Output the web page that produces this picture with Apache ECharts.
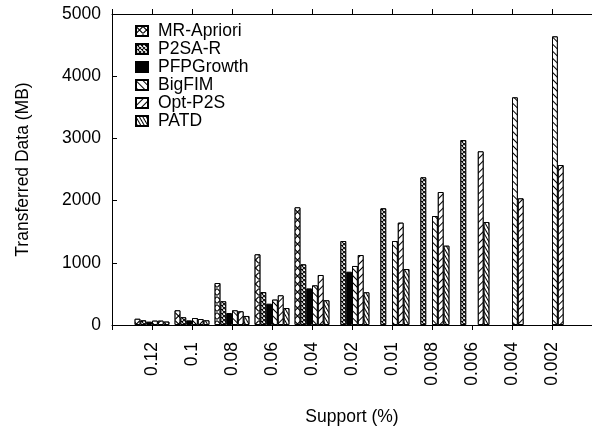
<!DOCTYPE html>
<html>
<head>
<meta charset="utf-8">
<script src="https://cdn.jsdelivr.net/npm/echarts@6/dist/echarts.min.js"></script>
<style>
  html, body { margin: 0; padding: 0; background: #fff; }
  #chart { width: 592px; height: 432px; }
</style>
</head>
<body>
<div id="chart"></div>
<script>
  const supports = ['0.12', '0.1', '0.08', '0.06', '0.04', '0.02', '0.01', '0.008', '0.006', '0.004', '0.002'];
  const mrApriori = [100, 236, 675, 1136, 1892, null, null, null, null, null, null];
  const p2saR = [75, 124, 381, 530, 975, 1350, 1876, 2374, 2974, null, null];
  const pfpGrowth = [55, 75, 193, 343, 589, 857, null, null, null, null, null];
  const bigFim = [70, 112, 236, 408, 637, 949, 1350, 1752, null, 3660, 4640];
  const optP2s = [70, 96, 220, 477, 804, 1125, 1645, 2138, 2792, 2036, 2572];
  const patd = [55, 75, 145, 273, 397, 526, 900, 1275, 1656, null, null];
  const yTicks = [0, 1000, 2000, 3000, 4000, 5000];

  const font = 'Liberation Sans, Arial, Helvetica, sans-serif';
  const fontSize = 17.5;

  // empty slot at both ends so the ticks fall like the gnuplot original
  const cats = [''].concat(supports, ['']);
  const pad = arr => [null].concat(arr, [null]);

  // X shaped cell, tiled into a diamond lattice
  const crossPath = t => 'path://M0,0L' + t + ',0L10,' + (10 - t) + 'L10,10L' + (10 - t) + ',10L0,' + t + 'Z' +
    'M' + (10 - t) + ',0L10,0L10,' + t + 'L' + t + ',10L0,10L0,' + (10 - t) + 'Z';

  const decals = {
    mr: { symbol: crossPath(1.2), symbolSize: 1, dashArrayX: [7, 0], dashArrayY: [8, 0], color: '#000', backgroundColor: '#fff' },
    p2sa: { symbol: crossPath(1.6), symbolSize: 1, dashArrayX: [4, 0], dashArrayY: [4, 0], color: '#000', backgroundColor: '#fff' },
    big: { symbol: 'rect', symbolSize: 1, dashArrayX: [1, 0], dashArrayY: [1, 4], rotation: Math.PI / 4, color: '#000', backgroundColor: '#fff' },
    opt: { symbol: 'rect', symbolSize: 1, dashArrayX: [1, 0], dashArrayY: [1, 4], rotation: -Math.PI / 4, color: '#000', backgroundColor: '#fff' },
    patd: { symbol: 'rect', symbolSize: 1, dashArrayX: [1, 0], dashArrayY: [1, 2], rotation: Math.PI / 3, color: '#000', backgroundColor: '#fff' }
  };

  const makeSeries = (name, data, fill, decal) => ({
    name,
    type: 'bar',
    data: pad(data),
    barWidth: 5.8,
    barGap: '0%',
    itemStyle: { color: fill, borderColor: '#000', borderWidth: 1, decal: decal },
    emphasis: { disabled: true }
  });

  const chart = echarts.init(document.getElementById('chart'));
  chart.setOption({
    animation: false,
    textStyle: { fontFamily: font },
    grid: { left: 112, top: 14, width: 487.2, bottom: 107 },
    legend: {
      orient: 'vertical',
      left: 130,
      top: 17,
      itemWidth: 12,
      itemHeight: 10,
      itemGap: 0,
      icon: 'rect',
      textStyle: { fontSize, color: '#000', fontFamily: font, padding: [0, 0, 0, 5] },
      data: ['MR-Apriori', 'P2SA-R', 'PFPGrowth', 'BigFIM', 'Opt-P2S', 'PATD']
    },
    xAxis: [{
      type: 'category',
      data: cats,
      boundaryGap: false,
      name: 'Support (%)',
      nameLocation: 'middle',
      nameGap: 83,
      nameTextStyle: { fontSize, color: '#000' },
      axisLine: { lineStyle: { color: '#000', width: 1 } },
      axisTick: { show: true, length: 5, lineStyle: { color: '#000' } },
      axisLabel: { rotate: 90, margin: 17, fontSize, color: '#000', interval: 0 },
      splitLine: { show: false }
    }, {
      type: 'category',
      data: cats,
      boundaryGap: false,
      position: 'top',
      axisLine: { lineStyle: { color: '#000', width: 1 } },
      axisTick: { show: true, length: 5, lineStyle: { color: '#000' } },
      axisLabel: { show: false },
      splitLine: { show: false }
    }],
    yAxis: {
      type: 'value',
      min: yTicks[0],
      max: yTicks[yTicks.length - 1],
      interval: 1000,
      name: 'Transferred Data (MB)',
      nameLocation: 'middle',
      nameGap: 80,
      nameTextStyle: { fontSize, color: '#000' },
      axisLine: { show: true, lineStyle: { color: '#000', width: 1 } },
      axisTick: { show: true, inside: true, length: 5, lineStyle: { color: '#000' } },
      axisLabel: { margin: 11, fontSize, color: '#000', formatter: v => String(v) },
      splitLine: { show: false }
    },
    series: [
      makeSeries('MR-Apriori', mrApriori, '#fff', decals.mr),
      makeSeries('P2SA-R', p2saR, '#fff', decals.p2sa),
      makeSeries('PFPGrowth', pfpGrowth, '#000', null),
      makeSeries('BigFIM', bigFim, '#fff', decals.big),
      makeSeries('Opt-P2S', optP2s, '#fff', decals.opt),
      makeSeries('PATD', patd, '#fff', decals.patd)
    ]
  });
</script>
</body>
</html>
